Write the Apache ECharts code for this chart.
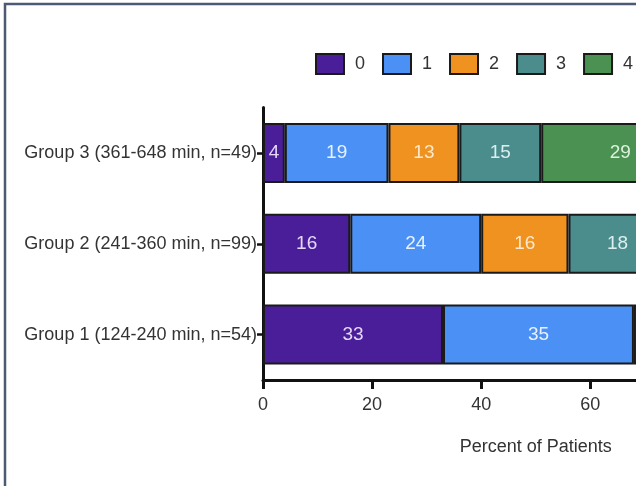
<!DOCTYPE html>
<html>
<head>
<meta charset="utf-8">
<script src="https://cdn.jsdelivr.net/npm/echarts@6/dist/echarts.min.js"></script>
<style>
html,body{margin:0;padding:0;background:#fff;}
#chart{width:636px;height:486px;}
</style>
</head>
<body>
<div id="chart"></div>
<script>
const categories = ['Group 1 (124-240 min, n=54)', 'Group 2 (241-360 min, n=99)', 'Group 3 (361-648 min, n=49)'];
const seriesNames = ['0', '1', '2', '3', '4'];
const score0 = [33, 16, 4];
const score1 = [35, 24, 19];
const score2 = [15, 16, 13];
const score3 = [11, 18, 15];
const score4 = [9, 14, 29];
const xTicks = [0, 20, 40, 60, 80, 100];

const values = [score0, score1, score2, score3, score4];
const colors = ['#4a1e98', '#4b90f5', '#f0921f', '#4a8d8c', '#4a9152'];
const labelColors = ['#e4d8f8', '#e8f2ff', '#fde8cc', '#dcefee', '#dcf2dc'];
const FONT = '"Liberation Sans", Arial, Helvetica, sans-serif';

const chart = echarts.init(document.getElementById('chart'));
chart.setOption({
  animation: false,
  backgroundColor: '#ffffff',
  textStyle: { fontFamily: FONT },
  graphic: [{
    type: 'rect',
    shape: { x: 5, y: 4, width: 1000, height: 1000 },
    style: { fill: 'none', stroke: '#4d5a73', lineWidth: 2.5 },
    silent: true
  }],
  legend: {
    data: seriesNames,
    left: 310,
    top: 48,
    width: 1000,
    itemWidth: 28,
    itemHeight: 20,
    itemGap: 17,
    icon: 'rect',
    itemStyle: { borderColor: '#1a1a1a', borderWidth: 2 },
    textStyle: { fontSize: 18, color: '#333', fontFamily: FONT, padding: [0, 0, 0, 6] }
  },
  grid: {
    left: 263,
    top: 107.5,
    width: 545.5,
    height: 272.5,
    containLabel: false,
    outerBoundsMode: 'none'
  },
  xAxis: {
    type: 'value',
    min: 0,
    max: 100,
    interval: 20,
    name: 'Percent of Patients',
    nameLocation: 'middle',
    nameGap: 58,
    nameTextStyle: { fontSize: 18, color: '#333', fontFamily: FONT },
    axisLine: { show: true, lineStyle: { color: '#111', width: 3 } },
    axisTick: { show: true, length: 9, lineStyle: { color: '#111', width: 3 } },
    axisLabel: {
      fontSize: 18, color: '#333', margin: 16, fontFamily: FONT,
      formatter: function (v) { return xTicks.indexOf(v) >= 0 ? String(v) : ''; }
    },
    splitLine: { show: false }
  },
  yAxis: {
    type: 'category',
    data: categories,
    axisLine: { show: true, lineStyle: { color: '#111', width: 3 } },
    axisTick: { show: true, alignWithLabel: true, length: 6, lineStyle: { color: '#111', width: 2.5 } },
    axisLabel: { fontSize: 18, color: '#333', margin: 6, fontFamily: FONT },
    splitLine: { show: false }
  },
  series: seriesNames.map(function (name, i) {
    return {
      name: name,
      type: 'bar',
      stack: 'total',
      barCategoryGap: '34%',
      data: values[i],
      itemStyle: { color: colors[i], borderColor: '#1a1a1a', borderWidth: 2 },
      label: {
        show: true,
        position: 'inside',
        color: labelColors[i],
        fontSize: 19,
        fontFamily: FONT,
        textBorderWidth: 0
      }
    };
  })
});
</script>
</body>
</html>
